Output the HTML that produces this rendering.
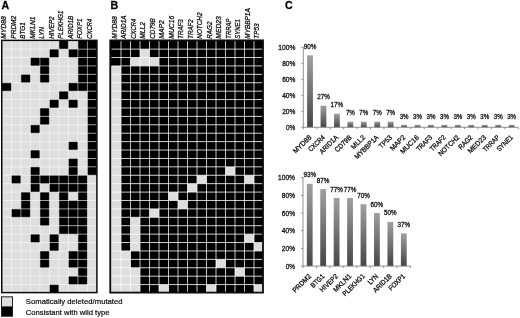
<!DOCTYPE html>
<html><head><meta charset="utf-8"><title>Figure</title>
<style>
html,body{margin:0;padding:0;background:#fff}
svg{display:block;filter:blur(0.35px)}
text{font-family:"Liberation Sans",sans-serif;fill:#111;stroke:#111;stroke-width:.2px}
.g{font-size:7px;font-style:italic;stroke-width:.3px}
.p{font-size:10.6px;font-weight:bold;fill:#000;stroke-width:.3px}
.l{font-size:8.1px;fill:#000}
.c{font-size:7px;fill:#111;stroke-width:.3px}
</style></head><body>
<svg width="520" height="318" viewBox="0 0 520 318">
<defs><linearGradient id="bg" x1="0" y1="0" x2="0" y2="1"><stop offset="0" stop-color="#a0a0a0"/><stop offset="1" stop-color="#464646"/></linearGradient></defs>
<rect width="520" height="318" fill="#fff"/>
<rect x="1.75" y="40.70" width="95.15" height="252.30" fill="#dedede"/>
<rect x="58.90" y="40.70" width="9.50" height="8.41" fill="#000"/>
<rect x="77.90" y="40.70" width="19.00" height="8.41" fill="#000"/>
<rect x="49.40" y="49.11" width="9.50" height="8.41" fill="#000"/>
<rect x="68.40" y="49.11" width="28.50" height="8.41" fill="#000"/>
<rect x="30.40" y="57.52" width="19.00" height="8.41" fill="#000"/>
<rect x="77.90" y="57.52" width="19.00" height="8.41" fill="#000"/>
<rect x="39.90" y="65.93" width="9.50" height="8.41" fill="#000"/>
<rect x="77.90" y="65.93" width="19.00" height="8.41" fill="#000"/>
<rect x="20.90" y="74.34" width="9.50" height="8.41" fill="#000"/>
<rect x="39.90" y="74.34" width="9.50" height="8.41" fill="#000"/>
<rect x="77.90" y="74.34" width="19.00" height="8.41" fill="#000"/>
<rect x="1.75" y="82.75" width="9.65" height="8.41" fill="#000"/>
<rect x="68.40" y="82.75" width="28.50" height="8.41" fill="#000"/>
<rect x="58.90" y="91.16" width="9.50" height="8.41" fill="#000"/>
<rect x="87.40" y="91.16" width="9.50" height="8.41" fill="#000"/>
<rect x="49.40" y="99.57" width="9.50" height="8.41" fill="#000"/>
<rect x="68.40" y="99.57" width="9.50" height="8.41" fill="#000"/>
<rect x="87.40" y="99.57" width="9.50" height="8.41" fill="#000"/>
<rect x="39.90" y="107.98" width="9.50" height="8.41" fill="#000"/>
<rect x="87.40" y="107.98" width="9.50" height="8.41" fill="#000"/>
<rect x="39.90" y="116.39" width="9.50" height="8.41" fill="#000"/>
<rect x="87.40" y="116.39" width="9.50" height="8.41" fill="#000"/>
<rect x="30.40" y="124.80" width="9.50" height="8.41" fill="#000"/>
<rect x="87.40" y="124.80" width="9.50" height="8.41" fill="#000"/>
<rect x="87.40" y="133.21" width="9.50" height="8.41" fill="#000"/>
<rect x="68.40" y="141.62" width="9.50" height="8.41" fill="#000"/>
<rect x="87.40" y="141.62" width="9.50" height="8.41" fill="#000"/>
<rect x="30.40" y="150.03" width="9.50" height="8.41" fill="#000"/>
<rect x="87.40" y="150.03" width="9.50" height="8.41" fill="#000"/>
<rect x="68.40" y="158.44" width="9.50" height="8.41" fill="#000"/>
<rect x="87.40" y="158.44" width="9.50" height="8.41" fill="#000"/>
<rect x="30.40" y="166.85" width="9.50" height="8.41" fill="#000"/>
<rect x="68.40" y="166.85" width="9.50" height="8.41" fill="#000"/>
<rect x="87.40" y="166.85" width="9.50" height="8.41" fill="#000"/>
<rect x="11.40" y="175.26" width="9.50" height="8.41" fill="#000"/>
<rect x="30.40" y="175.26" width="57.00" height="8.41" fill="#000"/>
<rect x="30.40" y="183.67" width="9.50" height="8.41" fill="#000"/>
<rect x="49.40" y="183.67" width="38.00" height="8.41" fill="#000"/>
<rect x="20.90" y="192.08" width="9.50" height="8.41" fill="#000"/>
<rect x="39.90" y="192.08" width="9.50" height="8.41" fill="#000"/>
<rect x="58.90" y="192.08" width="9.50" height="8.41" fill="#000"/>
<rect x="77.90" y="192.08" width="9.50" height="8.41" fill="#000"/>
<rect x="20.90" y="200.49" width="9.50" height="8.41" fill="#000"/>
<rect x="39.90" y="200.49" width="9.50" height="8.41" fill="#000"/>
<rect x="58.90" y="200.49" width="28.50" height="8.41" fill="#000"/>
<rect x="11.40" y="208.90" width="19.00" height="8.41" fill="#000"/>
<rect x="39.90" y="208.90" width="9.50" height="8.41" fill="#000"/>
<rect x="58.90" y="208.90" width="28.50" height="8.41" fill="#000"/>
<rect x="39.90" y="217.31" width="9.50" height="8.41" fill="#000"/>
<rect x="58.90" y="217.31" width="28.50" height="8.41" fill="#000"/>
<rect x="58.90" y="225.72" width="28.50" height="8.41" fill="#000"/>
<rect x="30.40" y="234.13" width="9.50" height="8.41" fill="#000"/>
<rect x="49.40" y="234.13" width="9.50" height="8.41" fill="#000"/>
<rect x="77.90" y="234.13" width="9.50" height="8.41" fill="#000"/>
<rect x="49.40" y="242.54" width="9.50" height="8.41" fill="#000"/>
<rect x="77.90" y="242.54" width="9.50" height="8.41" fill="#000"/>
<rect x="39.90" y="250.95" width="9.50" height="8.41" fill="#000"/>
<rect x="68.40" y="250.95" width="19.00" height="8.41" fill="#000"/>
<rect x="39.90" y="259.36" width="9.50" height="8.41" fill="#000"/>
<rect x="68.40" y="259.36" width="19.00" height="8.41" fill="#000"/>
<rect x="77.90" y="267.77" width="9.50" height="8.41" fill="#000"/>
<rect x="68.40" y="276.18" width="19.00" height="8.41" fill="#000"/>
<rect x="49.40" y="284.59" width="9.50" height="8.41" fill="#000"/>
<path d="M11.40 40.70V293.00M20.90 40.70V293.00M30.40 40.70V293.00M39.90 40.70V293.00M49.40 40.70V293.00M58.90 40.70V293.00M68.40 40.70V293.00M77.90 40.70V293.00M87.40 40.70V293.00M1.90 49.11H96.90M1.90 57.52H96.90M1.90 65.93H96.90M1.90 74.34H96.90M1.90 82.75H96.90M1.90 91.16H96.90M1.90 99.57H96.90M1.90 107.98H96.90M1.90 116.39H96.90M1.90 124.80H96.90M1.90 133.21H96.90M1.90 141.62H96.90M1.90 150.03H96.90M1.90 158.44H96.90M1.90 166.85H96.90M1.90 175.26H96.90M1.90 183.67H96.90M1.90 192.08H96.90M1.90 200.49H96.90M1.90 208.90H96.90M1.90 217.31H96.90M1.90 225.72H96.90M1.90 234.13H96.90M1.90 242.54H96.90M1.90 250.95H96.90M1.90 259.36H96.90M1.90 267.77H96.90M1.90 276.18H96.90M1.90 284.59H96.90" stroke="#fff" stroke-width="0.7" stroke-opacity="0.75" fill="none"/>
<rect x="1.75" y="40.35" width="95.15" height="252.25" fill="none" stroke="#0c0c0c" stroke-width="1.5"/>
<text transform="translate(6.40 38.7) rotate(-90)" class="g" textLength="22.43" lengthAdjust="spacingAndGlyphs">MYD88</text>
<text transform="translate(15.90 38.7) rotate(-90)" class="g" textLength="22.93" lengthAdjust="spacingAndGlyphs">PRDM2</text>
<text transform="translate(25.40 38.7) rotate(-90)" class="g" textLength="16.38" lengthAdjust="spacingAndGlyphs">BTG1</text>
<text transform="translate(34.90 38.7) rotate(-90)" class="g" textLength="22.26" lengthAdjust="spacingAndGlyphs">MKLN1</text>
<text transform="translate(44.40 38.7) rotate(-90)" class="g" textLength="11.73" lengthAdjust="spacingAndGlyphs">LYN</text>
<text transform="translate(53.90 38.7) rotate(-90)" class="g" textLength="22.30" lengthAdjust="spacingAndGlyphs">HIVEP2</text>
<text transform="translate(63.40 38.7) rotate(-90)" class="g" textLength="27.98" lengthAdjust="spacingAndGlyphs">PLEKHG1</text>
<text transform="translate(72.90 38.7) rotate(-90)" class="g" textLength="22.95" lengthAdjust="spacingAndGlyphs">ARID1B</text>
<text transform="translate(82.40 38.7) rotate(-90)" class="g" textLength="20.11" lengthAdjust="spacingAndGlyphs">FOXP1</text>
<text transform="translate(91.90 38.7) rotate(-90)" class="g" textLength="19.89" lengthAdjust="spacingAndGlyphs">CXCR4</text>
<rect x="110.25" y="40.70" width="152.75" height="252.30" fill="#dedede"/>
<rect x="110.25" y="40.70" width="152.75" height="8.41" fill="#000"/>
<rect x="110.25" y="49.11" width="29.75" height="8.41" fill="#000"/>
<rect x="149.50" y="49.11" width="113.50" height="8.41" fill="#000"/>
<rect x="110.25" y="57.52" width="20.25" height="8.41" fill="#000"/>
<rect x="159.00" y="57.52" width="104.00" height="8.41" fill="#000"/>
<rect x="121.00" y="65.93" width="142.00" height="8.41" fill="#000"/>
<rect x="121.00" y="74.34" width="142.00" height="8.41" fill="#000"/>
<rect x="121.00" y="82.75" width="142.00" height="8.41" fill="#000"/>
<rect x="121.00" y="91.16" width="142.00" height="8.41" fill="#000"/>
<rect x="121.00" y="99.57" width="142.00" height="8.41" fill="#000"/>
<rect x="121.00" y="107.98" width="142.00" height="8.41" fill="#000"/>
<rect x="121.00" y="116.39" width="142.00" height="8.41" fill="#000"/>
<rect x="121.00" y="124.80" width="142.00" height="8.41" fill="#000"/>
<rect x="121.00" y="133.21" width="142.00" height="8.41" fill="#000"/>
<rect x="121.00" y="141.62" width="142.00" height="8.41" fill="#000"/>
<rect x="121.00" y="150.03" width="142.00" height="8.41" fill="#000"/>
<rect x="121.00" y="158.44" width="142.00" height="8.41" fill="#000"/>
<rect x="121.00" y="166.85" width="104.50" height="8.41" fill="#000"/>
<rect x="235.00" y="166.85" width="28.00" height="8.41" fill="#000"/>
<rect x="121.00" y="175.26" width="76.00" height="8.41" fill="#000"/>
<rect x="206.50" y="175.26" width="38.00" height="8.41" fill="#000"/>
<rect x="254.00" y="175.26" width="9.00" height="8.41" fill="#000"/>
<rect x="121.00" y="183.67" width="66.50" height="8.41" fill="#000"/>
<rect x="197.00" y="183.67" width="66.00" height="8.41" fill="#000"/>
<rect x="121.00" y="192.08" width="47.50" height="8.41" fill="#000"/>
<rect x="178.00" y="192.08" width="85.00" height="8.41" fill="#000"/>
<rect x="121.00" y="200.49" width="57.00" height="8.41" fill="#000"/>
<rect x="187.50" y="200.49" width="75.50" height="8.41" fill="#000"/>
<rect x="121.00" y="208.90" width="28.50" height="8.41" fill="#000"/>
<rect x="159.00" y="208.90" width="104.00" height="8.41" fill="#000"/>
<rect x="121.00" y="217.31" width="9.50" height="8.41" fill="#000"/>
<rect x="140.00" y="217.31" width="123.00" height="8.41" fill="#000"/>
<rect x="121.00" y="225.72" width="9.50" height="8.41" fill="#000"/>
<rect x="140.00" y="225.72" width="123.00" height="8.41" fill="#000"/>
<rect x="121.00" y="234.13" width="9.50" height="8.41" fill="#000"/>
<rect x="140.00" y="234.13" width="104.50" height="8.41" fill="#000"/>
<rect x="254.00" y="234.13" width="9.00" height="8.41" fill="#000"/>
<rect x="121.00" y="242.54" width="9.50" height="8.41" fill="#000"/>
<rect x="140.00" y="242.54" width="114.00" height="8.41" fill="#000"/>
<rect x="130.50" y="250.95" width="132.50" height="8.41" fill="#000"/>
<rect x="130.50" y="259.36" width="85.50" height="8.41" fill="#000"/>
<rect x="225.50" y="259.36" width="37.50" height="8.41" fill="#000"/>
<rect x="140.00" y="267.77" width="95.00" height="8.41" fill="#000"/>
<rect x="244.50" y="267.77" width="18.50" height="8.41" fill="#000"/>
<rect x="140.00" y="276.18" width="123.00" height="8.41" fill="#000"/>
<rect x="140.00" y="284.59" width="19.00" height="8.41" fill="#000"/>
<rect x="168.50" y="284.59" width="38.00" height="8.41" fill="#000"/>
<rect x="216.00" y="284.59" width="38.00" height="8.41" fill="#000"/>
<path d="M121.00 40.70V293.00M130.50 40.70V293.00M140.00 40.70V293.00M149.50 40.70V293.00M159.00 40.70V293.00M168.50 40.70V293.00M178.00 40.70V293.00M187.50 40.70V293.00M197.00 40.70V293.00M206.50 40.70V293.00M216.00 40.70V293.00M225.50 40.70V293.00M235.00 40.70V293.00M244.50 40.70V293.00M254.00 40.70V293.00M111.50 49.11H263.50M111.50 57.52H263.50M111.50 65.93H263.50M111.50 74.34H263.50M111.50 82.75H263.50M111.50 91.16H263.50M111.50 99.57H263.50M111.50 107.98H263.50M111.50 116.39H263.50M111.50 124.80H263.50M111.50 133.21H263.50M111.50 141.62H263.50M111.50 150.03H263.50M111.50 158.44H263.50M111.50 166.85H263.50M111.50 175.26H263.50M111.50 183.67H263.50M111.50 192.08H263.50M111.50 200.49H263.50M111.50 208.90H263.50M111.50 217.31H263.50M111.50 225.72H263.50M111.50 234.13H263.50M111.50 242.54H263.50M111.50 250.95H263.50M111.50 259.36H263.50M111.50 267.77H263.50M111.50 276.18H263.50M111.50 284.59H263.50" stroke="#fff" stroke-width="0.8" stroke-opacity="0.95" fill="none"/>
<rect x="110.25" y="40.35" width="152.75" height="252.25" fill="none" stroke="#0c0c0c" stroke-width="1.8"/>
<text transform="translate(116.90 38.7) rotate(-90)" class="g" textLength="22.43" lengthAdjust="spacingAndGlyphs">MYD88</text>
<text transform="translate(126.40 38.7) rotate(-90)" class="g" textLength="23.22" lengthAdjust="spacingAndGlyphs">ARID1A</text>
<text transform="translate(135.90 38.7) rotate(-90)" class="g" textLength="19.89" lengthAdjust="spacingAndGlyphs">CXCR4</text>
<text transform="translate(145.40 38.7) rotate(-90)" class="g" textLength="16.63" lengthAdjust="spacingAndGlyphs">MLL2</text>
<text transform="translate(154.90 38.7) rotate(-90)" class="g" textLength="20.43" lengthAdjust="spacingAndGlyphs">CD79B</text>
<text transform="translate(164.40 38.7) rotate(-90)" class="g" textLength="18.56" lengthAdjust="spacingAndGlyphs">MAP2</text>
<text transform="translate(173.90 38.7) rotate(-90)" class="g" textLength="22.98" lengthAdjust="spacingAndGlyphs">MUC16</text>
<text transform="translate(183.40 38.7) rotate(-90)" class="g" textLength="19.44" lengthAdjust="spacingAndGlyphs">TRAF3</text>
<text transform="translate(192.90 38.7) rotate(-90)" class="g" textLength="19.44" lengthAdjust="spacingAndGlyphs">TRAF2</text>
<text transform="translate(202.40 38.7) rotate(-90)" class="g" textLength="26.11" lengthAdjust="spacingAndGlyphs">NOTCH2</text>
<text transform="translate(211.90 38.7) rotate(-90)" class="g" textLength="17.06" lengthAdjust="spacingAndGlyphs">RAG2</text>
<text transform="translate(221.40 38.7) rotate(-90)" class="g" textLength="22.44" lengthAdjust="spacingAndGlyphs">MED23</text>
<text transform="translate(230.90 38.7) rotate(-90)" class="g" textLength="20.15" lengthAdjust="spacingAndGlyphs">TRRAP</text>
<text transform="translate(240.40 38.7) rotate(-90)" class="g" textLength="19.53" lengthAdjust="spacingAndGlyphs">SYNE1</text>
<text transform="translate(249.90 38.7) rotate(-90)" class="g" textLength="30.45" lengthAdjust="spacingAndGlyphs">MYBBP1A</text>
<text transform="translate(259.40 38.7) rotate(-90)" class="g" textLength="15.24" lengthAdjust="spacingAndGlyphs">TP53</text>
<text x="1.4" y="9.4" class="p">A</text>
<text x="110.4" y="9.4" class="p">B</text>
<text x="285.1" y="9.4" class="p">C</text>
<rect x="1.5" y="296.8" width="11" height="9.6" fill="#dedede"/>
<rect x="1.5" y="306.4" width="11" height="9.8" fill="#000"/>
<rect x="1.5" y="296.8" width="11" height="19.4" fill="none" stroke="#222" stroke-width="1"/>
<text x="25.8" y="304.2" class="l" textLength="96.75" lengthAdjust="spacingAndGlyphs">Somatically deleted/mutated</text>
<text x="25.8" y="314.6" class="l" textLength="83.73" lengthAdjust="spacingAndGlyphs">Consistant with wild type</text>
<text x="295.30" y="130.00" class="c" text-anchor="end" textLength="9.29" lengthAdjust="spacingAndGlyphs">0%</text>
<text x="295.30" y="114.00" class="c" text-anchor="end" textLength="13.14" lengthAdjust="spacingAndGlyphs">20%</text>
<text x="295.30" y="98.00" class="c" text-anchor="end" textLength="13.14" lengthAdjust="spacingAndGlyphs">40%</text>
<text x="295.30" y="82.00" class="c" text-anchor="end" textLength="13.14" lengthAdjust="spacingAndGlyphs">60%</text>
<text x="295.30" y="66.00" class="c" text-anchor="end" textLength="13.14" lengthAdjust="spacingAndGlyphs">80%</text>
<text x="295.30" y="50.00" class="c" text-anchor="end" textLength="16.99" lengthAdjust="spacingAndGlyphs">100%</text>
<rect x="307.12" y="55.30" width="5.8" height="72.00" fill="url(#bg)"/>
<text x="310.02" y="48.90" class="c v" text-anchor="middle" textLength="12.62" lengthAdjust="spacingAndGlyphs">90%</text>
<text transform="translate(311.82 137.90) rotate(-45)" class="c" text-anchor="end" textLength="22.58" lengthAdjust="spacingAndGlyphs">MYD88</text>
<rect x="320.56" y="105.70" width="5.8" height="21.60" fill="url(#bg)"/>
<text x="323.46" y="99.30" class="c v" text-anchor="middle" textLength="12.62" lengthAdjust="spacingAndGlyphs">27%</text>
<text transform="translate(325.26 137.90) rotate(-45)" class="c" text-anchor="end" textLength="20.03" lengthAdjust="spacingAndGlyphs">CXCR4</text>
<rect x="334.00" y="113.70" width="5.8" height="13.60" fill="url(#bg)"/>
<text x="336.90" y="107.30" class="c v" text-anchor="middle" textLength="12.62" lengthAdjust="spacingAndGlyphs">17%</text>
<text transform="translate(338.70 137.90) rotate(-45)" class="c" text-anchor="end" textLength="23.37" lengthAdjust="spacingAndGlyphs">ARID1A</text>
<rect x="347.44" y="121.70" width="5.8" height="5.60" fill="url(#bg)"/>
<text x="350.34" y="115.30" class="c v" text-anchor="middle" textLength="8.92" lengthAdjust="spacingAndGlyphs">7%</text>
<text transform="translate(352.14 137.90) rotate(-45)" class="c" text-anchor="end" textLength="20.57" lengthAdjust="spacingAndGlyphs">CD79B</text>
<rect x="360.88" y="121.70" width="5.8" height="5.60" fill="url(#bg)"/>
<text x="363.78" y="115.30" class="c v" text-anchor="middle" textLength="8.92" lengthAdjust="spacingAndGlyphs">7%</text>
<text transform="translate(365.58 137.90) rotate(-45)" class="c" text-anchor="end" textLength="16.74" lengthAdjust="spacingAndGlyphs">MLL2</text>
<rect x="374.32" y="121.70" width="5.8" height="5.60" fill="url(#bg)"/>
<text x="377.22" y="115.30" class="c v" text-anchor="middle" textLength="8.92" lengthAdjust="spacingAndGlyphs">7%</text>
<text transform="translate(379.02 137.90) rotate(-45)" class="c" text-anchor="end" textLength="30.65" lengthAdjust="spacingAndGlyphs">MYBBP1A</text>
<rect x="387.76" y="121.70" width="5.8" height="5.60" fill="url(#bg)"/>
<text x="390.66" y="115.30" class="c v" text-anchor="middle" textLength="8.92" lengthAdjust="spacingAndGlyphs">7%</text>
<text transform="translate(392.46 137.90) rotate(-45)" class="c" text-anchor="end" textLength="15.34" lengthAdjust="spacingAndGlyphs">TP53</text>
<rect x="401.20" y="124.90" width="5.8" height="2.40" fill="url(#bg)"/>
<text x="404.10" y="118.50" class="c v" text-anchor="middle" textLength="8.92" lengthAdjust="spacingAndGlyphs">3%</text>
<text transform="translate(405.90 137.90) rotate(-45)" class="c" text-anchor="end" textLength="18.68" lengthAdjust="spacingAndGlyphs">MAP2</text>
<rect x="414.64" y="124.90" width="5.8" height="2.40" fill="url(#bg)"/>
<text x="417.54" y="118.50" class="c v" text-anchor="middle" textLength="8.92" lengthAdjust="spacingAndGlyphs">3%</text>
<text transform="translate(419.34 137.90) rotate(-45)" class="c" text-anchor="end" textLength="23.13" lengthAdjust="spacingAndGlyphs">MUC16</text>
<rect x="428.08" y="124.90" width="5.8" height="2.40" fill="url(#bg)"/>
<text x="430.98" y="118.50" class="c v" text-anchor="middle" textLength="8.92" lengthAdjust="spacingAndGlyphs">3%</text>
<text transform="translate(432.78 137.90) rotate(-45)" class="c" text-anchor="end" textLength="19.57" lengthAdjust="spacingAndGlyphs">TRAF3</text>
<rect x="441.52" y="124.90" width="5.8" height="2.40" fill="url(#bg)"/>
<text x="444.42" y="118.50" class="c v" text-anchor="middle" textLength="8.92" lengthAdjust="spacingAndGlyphs">3%</text>
<text transform="translate(446.22 137.90) rotate(-45)" class="c" text-anchor="end" textLength="19.57" lengthAdjust="spacingAndGlyphs">TRAF2</text>
<rect x="454.96" y="124.90" width="5.8" height="2.40" fill="url(#bg)"/>
<text x="457.86" y="118.50" class="c v" text-anchor="middle" textLength="8.92" lengthAdjust="spacingAndGlyphs">3%</text>
<text transform="translate(459.66 137.90) rotate(-45)" class="c" text-anchor="end" textLength="26.28" lengthAdjust="spacingAndGlyphs">NOTCH2</text>
<rect x="468.40" y="124.90" width="5.8" height="2.40" fill="url(#bg)"/>
<text x="471.30" y="118.50" class="c v" text-anchor="middle" textLength="8.92" lengthAdjust="spacingAndGlyphs">3%</text>
<text transform="translate(473.10 137.90) rotate(-45)" class="c" text-anchor="end" textLength="17.18" lengthAdjust="spacingAndGlyphs">RAG2</text>
<rect x="481.84" y="124.90" width="5.8" height="2.40" fill="url(#bg)"/>
<text x="484.74" y="118.50" class="c v" text-anchor="middle" textLength="8.92" lengthAdjust="spacingAndGlyphs">3%</text>
<text transform="translate(486.54 137.90) rotate(-45)" class="c" text-anchor="end" textLength="22.59" lengthAdjust="spacingAndGlyphs">MED23</text>
<rect x="495.28" y="124.90" width="5.8" height="2.40" fill="url(#bg)"/>
<text x="498.18" y="118.50" class="c v" text-anchor="middle" textLength="8.92" lengthAdjust="spacingAndGlyphs">3%</text>
<text transform="translate(499.98 137.90) rotate(-45)" class="c" text-anchor="end" textLength="20.28" lengthAdjust="spacingAndGlyphs">TRRAP</text>
<rect x="508.72" y="124.90" width="5.8" height="2.40" fill="url(#bg)"/>
<text x="511.62" y="118.50" class="c v" text-anchor="middle" textLength="8.92" lengthAdjust="spacingAndGlyphs">3%</text>
<text transform="translate(513.42 137.90) rotate(-45)" class="c" text-anchor="end" textLength="19.66" lengthAdjust="spacingAndGlyphs">SYNE1</text>
<path d="M303.30 46.80V129.30M301.30 127.30H518.34M301.30 111.30H303.30M301.30 95.30H303.30M301.30 79.30H303.30M301.30 63.30H303.30M301.30 47.30H303.30M316.74 127.30v2M330.18 127.30v2M343.62 127.30v2M357.06 127.30v2M370.50 127.30v2M383.94 127.30v2M397.38 127.30v2M410.82 127.30v2M424.26 127.30v2M437.70 127.30v2M451.14 127.30v2M464.58 127.30v2M478.02 127.30v2M491.46 127.30v2M504.90 127.30v2M518.34 127.30v2" stroke="#868686" stroke-width="0.9" fill="none"/>
<text x="295.00" y="268.80" class="c" text-anchor="end" textLength="9.29" lengthAdjust="spacingAndGlyphs">0%</text>
<text x="295.00" y="251.10" class="c" text-anchor="end" textLength="13.14" lengthAdjust="spacingAndGlyphs">20%</text>
<text x="295.00" y="233.40" class="c" text-anchor="end" textLength="13.14" lengthAdjust="spacingAndGlyphs">40%</text>
<text x="295.00" y="215.70" class="c" text-anchor="end" textLength="13.14" lengthAdjust="spacingAndGlyphs">60%</text>
<text x="295.00" y="198.00" class="c" text-anchor="end" textLength="13.14" lengthAdjust="spacingAndGlyphs">80%</text>
<text x="295.00" y="180.30" class="c" text-anchor="end" textLength="16.99" lengthAdjust="spacingAndGlyphs">100%</text>
<rect x="306.82" y="183.80" width="5.8" height="82.31" fill="url(#bg)"/>
<text x="309.72" y="177.40" class="c v" text-anchor="middle" textLength="12.62" lengthAdjust="spacingAndGlyphs">93%</text>
<text transform="translate(311.52 276.70) rotate(-45)" class="c" text-anchor="end" textLength="23.08" lengthAdjust="spacingAndGlyphs">PRDM2</text>
<rect x="320.26" y="189.10" width="5.8" height="77.00" fill="url(#bg)"/>
<text x="323.16" y="182.70" class="c v" text-anchor="middle" textLength="12.62" lengthAdjust="spacingAndGlyphs">87%</text>
<text transform="translate(324.96 276.70) rotate(-45)" class="c" text-anchor="end" textLength="16.48" lengthAdjust="spacingAndGlyphs">BTG1</text>
<rect x="333.70" y="197.95" width="5.8" height="68.15" fill="url(#bg)"/>
<text x="336.60" y="191.55" class="c v" text-anchor="middle" textLength="12.62" lengthAdjust="spacingAndGlyphs">77%</text>
<text transform="translate(338.40 276.70) rotate(-45)" class="c" text-anchor="end" textLength="22.45" lengthAdjust="spacingAndGlyphs">HIVEP2</text>
<rect x="347.14" y="197.95" width="5.8" height="68.15" fill="url(#bg)"/>
<text x="350.04" y="191.55" class="c v" text-anchor="middle" textLength="12.62" lengthAdjust="spacingAndGlyphs">77%</text>
<text transform="translate(351.84 276.70) rotate(-45)" class="c" text-anchor="end" textLength="22.40" lengthAdjust="spacingAndGlyphs">MKLN1</text>
<rect x="360.58" y="204.15" width="5.8" height="61.95" fill="url(#bg)"/>
<text x="363.48" y="197.75" class="c v" text-anchor="middle" textLength="12.62" lengthAdjust="spacingAndGlyphs">70%</text>
<text transform="translate(365.28 276.70) rotate(-45)" class="c" text-anchor="end" textLength="28.17" lengthAdjust="spacingAndGlyphs">PLEKHG1</text>
<rect x="374.02" y="213.00" width="5.8" height="53.10" fill="url(#bg)"/>
<text x="376.92" y="206.60" class="c v" text-anchor="middle" textLength="12.62" lengthAdjust="spacingAndGlyphs">60%</text>
<text transform="translate(378.72 276.70) rotate(-45)" class="c" text-anchor="end" textLength="11.80" lengthAdjust="spacingAndGlyphs">LYN</text>
<rect x="387.46" y="221.85" width="5.8" height="44.25" fill="url(#bg)"/>
<text x="390.36" y="215.45" class="c v" text-anchor="middle" textLength="12.62" lengthAdjust="spacingAndGlyphs">50%</text>
<text transform="translate(392.16 276.70) rotate(-45)" class="c" text-anchor="end" textLength="23.10" lengthAdjust="spacingAndGlyphs">ARID1B</text>
<rect x="400.90" y="233.36" width="5.8" height="32.75" fill="url(#bg)"/>
<text x="403.80" y="226.96" class="c v" text-anchor="middle" textLength="12.62" lengthAdjust="spacingAndGlyphs">37%</text>
<text transform="translate(405.60 276.70) rotate(-45)" class="c" text-anchor="end" textLength="20.25" lengthAdjust="spacingAndGlyphs">FOXP1</text>
<path d="M303.00 177.10V268.10M301.00 266.10H410.52M301.00 248.40H303.00M301.00 230.70H303.00M301.00 213.00H303.00M301.00 195.30H303.00M301.00 177.60H303.00M316.44 266.10v2M329.88 266.10v2M343.32 266.10v2M356.76 266.10v2M370.20 266.10v2M383.64 266.10v2M397.08 266.10v2M410.52 266.10v2" stroke="#868686" stroke-width="0.9" fill="none"/>
</svg>
</body></html>
